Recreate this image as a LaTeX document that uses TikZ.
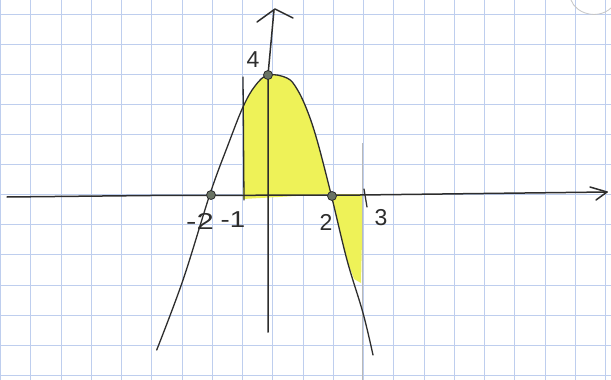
\documentclass[tikz,border=0pt]{standalone}
\usepackage{fontspec}
\setmainfont{Liberation Sans}
\definecolor{gridc}{RGB}{190,206,238}
\definecolor{yel}{RGB}{238,242,88}
\definecolor{ink}{RGB}{45,45,45}
\definecolor{dotc}{RGB}{105,115,100}
\tikzset{
  gridline/.style={draw=gridc, line width=0.8pt},
  inkline/.style={draw=ink, line width=1.5pt, line cap=round, line join=round},
  curveline/.style={draw=ink, line width=1.3pt, line cap=round},
  faint/.style={draw=gray!55, line width=0.8pt},
  dot/.style={circle, draw=ink, fill=dotc, line width=0.8pt, minimum size=9pt, inner sep=0pt},
  lbl/.style={font=\fontsize{23}{23}\selectfont, text=ink, inner sep=0pt}
}
\begin{document}
\begin{tikzpicture}[x=1pt,y=-1pt]
\useasboundingbox (0,0) rectangle (611,380);
\fill[white] (0,0) rectangle (611,380);
% grid
\foreach \i in {0,...,20} \draw[gridline] ({0.5+30.25*\i},0) -- ++(0,380);
\foreach \j in {0,...,12} \draw[gridline] (0,{14+30.1*\j}) -- ++(611,0);
% shading
\fill[yel] plot[smooth, tension=0.6] coordinates {(243,107) (255,86) (268,75) (287,78) (297,89) (307,110) (317,140) (331,194)} -- (243,199) -- cycle;
\fill[yel] (331,194) -- (347,260) -- (354,279) -- (361,283) -- (363,194) -- cycle;
% faint line at x = 3
\coordinate (f1) at (362,143);
\coordinate (f2) at (362,380);
\draw[faint] (f1) -- (f2);
% smudge top right
\draw[faint, draw=gray!45] (571,0) .. controls (576,14) and (598,20) .. (611,8);
% x-axis
\coordinate (xl) at (7,197);
\coordinate (xr) at (607,192);
\draw[inkline] (xl) -- (150,195.5) -- (360,195) -- (xr);
\draw[inkline] (590,187) -- (xr) -- (596,200);
% y-axis
\coordinate (yb) at (268,332);
\coordinate (yt) at (274,10);
\draw[inkline] (yb) -- (268,75) -- (yt);
\draw[inkline] (257,22) -- (275,9) -- (293,18);
% line at x = -1 and ticks
\coordinate (m1) at (243,77);
\coordinate (m2) at (244,200);
\draw[inkline, line width=1.3pt] (m1) -- (m2);
\coordinate (t3a) at (364,189);
\coordinate (t3b) at (367,207);
\draw[inkline, line width=1.3pt] (t3a) -- (t3b);
% parabola
\draw[curveline] plot[smooth, tension=0.6] coordinates {(156.7,350) (183,280) (210,194) (228,145) (243,107) (255,86) (268,75) (287,78) (297,89) (307,110) (317,140) (331,194) (347,260) (363,313) (373,355)};
% points
\node[dot] (v) at (268,75) {};
\node[dot] (r1) at (211,195) {};
\node[dot] (r2) at (332,196) {};
% labels
\node[lbl] (l4) at (253,60) {4};
\node[lbl, xscale=1.35] (lm2) at (200,221) {-2};
\node[lbl, xscale=1.2] (lm1) at (233,220) {-1};
\node[lbl] (l2) at (326,222) {2};
\node[lbl] (l3) at (381,218) {3};
\end{tikzpicture}
\end{document}
